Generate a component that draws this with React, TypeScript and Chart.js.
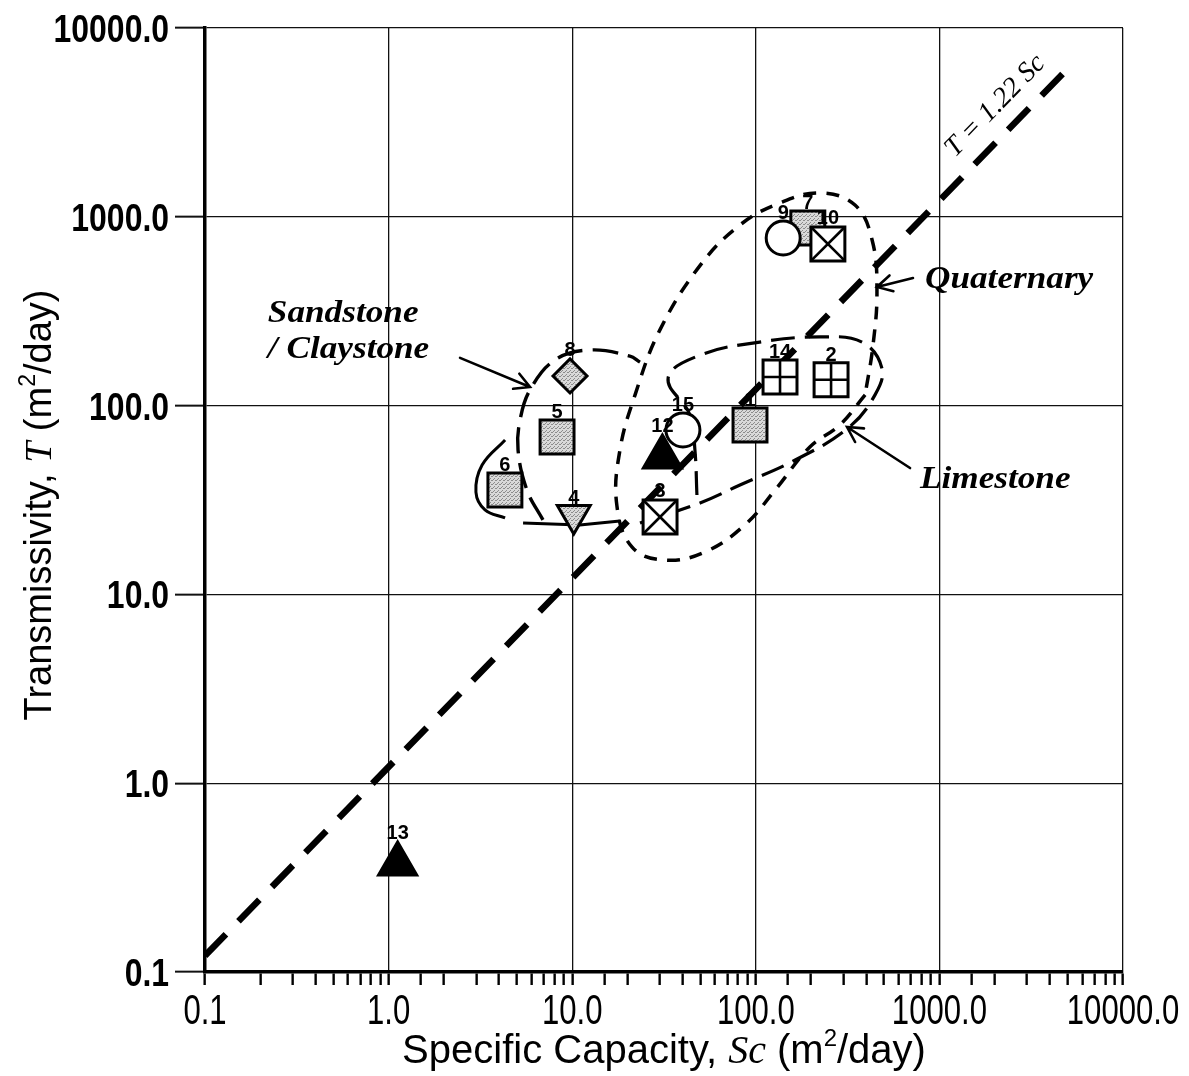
import React, { useEffect, useRef } from 'react';
import { Chart, registerables } from 'chart.js';
Chart.register(...registerables);

// ---------- data ----------
const wellIds = ['1', '2', '3', '4', '5', '6', '7', '8', '9', '10', '12', '13', '14', '15'];
const specificCapacity = [93, 257, 30.1, 10.2, 8.27, 4.3, 192, 9.73, 141, 247, 31, 1.12, 135.5, 40.1];
const transmissivity = [79, 137, 25.7, 26.3, 68.2, 35.7, 872, 143.5, 772, 718, 53.4, 0.373, 141.8, 74.3];
const markerKinds = [
  'greySquare', 'gridSquare', 'crossSquare', 'greyTriangleDown', 'greySquare', 'greySquare', 'greySquare',
  'greyDiamond', 'openCircle', 'crossSquare', 'blackTriangle', 'blackTriangle', 'gridSquare', 'openCircle',
];

const axisMin = 0.1;
const axisMax = 10000;
const decadeTicks = [0.1, 1, 10, 100, 1000, 10000];
const decadeTickLabels = ['0.1', '1.0', '10.0', '100.0', '1000.0', '10000.0'];

// T = 1.22 Sc reference line end points
const fitLineSc = [0.1, 5100];
const fitLineT = [0.122, 6220];
const fitLineLabel = 'T = 1.22 Sc';

// hand drawn group outlines (Sc, T)
const quaternaryLoop: [number, number][] = [
  [394, 114], [287, 79], [197, 60.4], [130, 36.6], [87, 23.3], [53, 16.8], [32, 15.2], [21.2, 17.8],
  [17.5, 29.7], [18.2, 58.2], [22, 114], [30, 251], [50, 556], [82, 905], [135, 1183], [224, 1337],
  [347, 1154], [430, 754], [457, 409], [435, 209], [394, 114],
];
const limestoneLoop: [number, number][] = [
  [47.8, 33.6], [46.6, 58.2], [43.8, 89.2], [33.3, 140], [49.7, 185], [105, 217], [224, 231], [379, 217],
  [486, 158], [446, 114], [318, 76], [164, 51.5], [82, 38], [49.7, 30.5], [23.4, 23.9],
];
const sandstoneLoop: [number, number][] = [
  [6.93, 24.8], [5.67, 35.7], [5.07, 58.2], [5.2, 83.9], [5.89, 121], [8.06, 174.5], [12.5, 197],
  [20.6, 183], [23.4, 170],
];
const sandstoneBase: [number, number][] = [[5.4, 23.9], [11.0, 23.3], [18.2, 24.5]];
const sandstoneArc: [number, number][] = [[4.31, 65.7], [3.23, 48.4], [2.99, 34.8], [3.35, 28], [4.31, 25.4]];

// pointer arrows: [from, to]
const arrowSandstone: [number, number][] = [[2.45, 179], [5.89, 125.5]];
const arrowQuaternary: [number, number][] = [[718, 474], [457, 425]];
const arrowLimestone: [number, number][] = [[692, 46.7], [314, 77]];

// group names and anchors (Sc, T)
const groupNames = ['Sandstone', '/ Claystone', 'Quaternary', 'Limestone'];
const groupAnchorSc = [0.22, 0.22, 835, 784];
const groupAnchorT = [277, 179, 420, 36.6];
const fitLabelAnchor: [number, number] = [1216, 2047];

// ---------- styles ----------
type MarkerStyle = { pointStyle: string; radius: number; fill: string; rotation?: number; order: number; labelOffset: number; overlay?: string; overlayRadius?: number };
const markerStyles: Record<string, MarkerStyle> = {
  greySquare: { pointStyle: 'rect', radius: 24, fill: 'grey', order: 6, labelOffset: 19 },
  gridSquare: { pointStyle: 'rect', radius: 24, fill: 'white', order: 4, labelOffset: 19, overlay: 'cross', overlayRadius: 17 },
  crossSquare: { pointStyle: 'rect', radius: 24, fill: 'white', order: 4, labelOffset: 20, overlay: 'crossRot', overlayRadius: 24 },
  greyTriangleDown: { pointStyle: 'triangle', radius: 19, fill: 'grey', rotation: 180, order: 5, labelOffset: 11 },
  greyDiamond: { pointStyle: 'rectRot', radius: 17, fill: 'grey', order: 5, labelOffset: 20 },
  openCircle: { pointStyle: 'circle', radius: 17, fill: 'white', order: 4, labelOffset: 19 },
  blackTriangle: { pointStyle: 'triangle', radius: 22, fill: 'black', order: 2, labelOffset: 25 },
};

const isMajor = (v: number) => Math.abs(Math.log10(v) - Math.round(Math.log10(v))) < 1e-6;

function makePattern(): CanvasPattern | string {
  const c = document.createElement('canvas');
  c.width = 4;
  c.height = 4;
  const g = c.getContext('2d');
  if (!g) return '#c4c4c4';
  g.fillStyle = '#d9d9d9';
  g.fillRect(0, 0, 4, 4);
  g.fillStyle = '#8c8c8c';
  g.fillRect(0, 0, 1, 1);
  g.fillRect(2, 2, 1, 1);
  g.fillRect(3, 0, 1, 1);
  g.fillRect(1, 3, 1, 1);
  return g.createPattern(c, 'repeat') ?? '#c4c4c4';
}

type Part = { t: string; f: string; dy?: number };
function drawRich(ctx: CanvasRenderingContext2D, parts: Part[], cx: number, baseline: number) {
  let total = 0;
  for (const p of parts) {
    ctx.font = p.f;
    total += ctx.measureText(p.t).width;
  }
  let x = cx - total / 2;
  ctx.textAlign = 'left';
  ctx.textBaseline = 'alphabetic';
  for (const p of parts) {
    ctx.font = p.f;
    ctx.fillText(p.t, x, baseline + (p.dy || 0));
    x += ctx.measureText(p.t).width;
  }
}

const overlayPlugin = {
  id: 'overlay',
  afterDatasetsDraw(chart: any) {
    const ctx: CanvasRenderingContext2D = chart.ctx;
    const xs = chart.scales.x;
    const ys = chart.scales.y;
    const px = (v: number) => xs.getPixelForValue(v);
    const py = (v: number) => ys.getPixelForValue(v);
    ctx.save();
    ctx.fillStyle = '#000';
    ctx.strokeStyle = '#000';

    // arrows
    ctx.lineWidth = 2.6;
    ctx.lineCap = 'round';
    for (const a of [arrowSandstone, arrowQuaternary, arrowLimestone]) {
      const x0 = px(a[0][0]), y0 = py(a[0][1]), x1 = px(a[1][0]), y1 = py(a[1][1]);
      const ang = Math.atan2(y1 - y0, x1 - x0);
      const h = 17;
      ctx.beginPath();
      ctx.moveTo(x0, y0);
      ctx.lineTo(x1, y1);
      ctx.moveTo(x1 - h * Math.cos(ang - 0.5), y1 - h * Math.sin(ang - 0.5));
      ctx.lineTo(x1, y1);
      ctx.lineTo(x1 - h * Math.cos(ang + 0.5), y1 - h * Math.sin(ang + 0.5));
      ctx.stroke();
    }

    // well labels
    ctx.font = 'bold 20px "Liberation Sans"';
    ctx.textAlign = 'center';
    ctx.textBaseline = 'alphabetic';
    wellIds.forEach((id, i) => {
      const st = markerStyles[markerKinds[i]];
      ctx.fillText(id, px(specificCapacity[i]), py(transmissivity[i]) - st.labelOffset);
    });

    // group names
    ctx.font = 'italic bold 32px "Liberation Serif"';
    ctx.textAlign = 'left';
    groupNames.forEach((name, i) => {
      ctx.save();
      ctx.translate(px(groupAnchorSc[i]), py(groupAnchorT[i]));
      ctx.scale(1.1, 1);
      ctx.fillText(name, 0, 0);
      ctx.restore();
    });

    // fit line label
    const ang = Math.atan2(py(fitLineT[1]) - py(fitLineT[0]), px(fitLineSc[1]) - px(fitLineSc[0]));
    ctx.save();
    ctx.translate(px(fitLabelAnchor[0]), py(fitLabelAnchor[1]));
    ctx.rotate(ang);
    ctx.font = 'italic 28px "Liberation Serif"';
    ctx.fillText(fitLineLabel, 0, 0);
    ctx.restore();
    ctx.restore();
  },
  afterDraw(chart: any) {
    const ctx: CanvasRenderingContext2D = chart.ctx;
    const area = chart.chartArea;
    const xs = chart.scales.x;
    const ys = chart.scales.y;
    ctx.save();
    ctx.fillStyle = '#000';

    // tick labels (condensed, tall digits)
    ctx.textBaseline = 'alphabetic';
    ctx.font = '42px "Liberation Sans"';
    ctx.textAlign = 'center';
    decadeTicks.forEach((v, i) => {
      ctx.save();
      ctx.translate(xs.getPixelForValue(v), 1024);
      ctx.scale(0.74, 1);
      ctx.fillText(decadeTickLabels[i], 0, 0);
      ctx.restore();
    });
    ctx.font = 'bold 38px "Liberation Sans"';
    ctx.textAlign = 'right';
    decadeTicks.forEach((v, i) => {
      ctx.save();
      ctx.translate(169, ys.getPixelForValue(v) + 14);
      ctx.scale(0.84, 1);
      ctx.fillText(decadeTickLabels[i], 0, 0);
      ctx.restore();
    });

    drawRich(ctx, [
      { t: 'Specific Capacity, ', f: '40px "Liberation Sans"' },
      { t: 'Sc', f: 'italic 40px "Liberation Serif"' },
      { t: ' (m', f: '40px "Liberation Sans"' },
      { t: '2', f: '24px "Liberation Sans"', dy: -17 },
      { t: '/day)', f: '40px "Liberation Sans"' },
    ], (area.left + area.right) / 2, 1063);
    ctx.translate(51, (area.top + area.bottom) / 2 + 5);
    ctx.rotate(-Math.PI / 2);
    drawRich(ctx, [
      { t: 'Transmissivity, ', f: '38px "Liberation Sans"' },
      { t: 'T', f: 'italic 38px "Liberation Serif"' },
      { t: ' (m', f: '38px "Liberation Sans"' },
      { t: '2', f: '23px "Liberation Sans"', dy: -16 },
      { t: '/day)', f: '38px "Liberation Sans"' },
    ], 0, 0);
    ctx.restore();
  },
};

const toXY = (pts: [number, number][]) => pts.map(([x, y]) => ({ x, y }));

export default function App() {
  const ref = useRef<HTMLCanvasElement>(null);
  useEffect(() => {
    const canvas = ref.current;
    if (!canvas) return;
    const grey = makePattern();
    const fills: Record<string, any> = { grey, white: '#ffffff', black: '#000000' };

    const markerSets: any[] = [];
    Object.keys(markerStyles).forEach((kind) => {
      const st = markerStyles[kind];
      const data = wellIds
        .map((_, i) => i)
        .filter((i) => markerKinds[i] === kind)
        .map((i) => ({ x: specificCapacity[i], y: transmissivity[i] }));
      markerSets.push({
        label: kind,
        data,
        pointStyle: st.pointStyle,
        pointRadius: st.radius,
        pointRotation: st.rotation || 0,
        pointBackgroundColor: fills[st.fill],
        pointBorderColor: '#000',
        pointBorderWidth: 3,
        showLine: false,
        order: st.order,
        clip: false,
      });
      if (st.overlay) {
        markerSets.push({
          label: kind + '-overlay',
          data,
          pointStyle: st.overlay,
          pointRadius: st.overlayRadius,
          pointBorderColor: '#000',
          pointBorderWidth: 2.6,
          showLine: false,
          order: 1,
          clip: false,
        });
      }
    });

    const lineSet = (label: string, pts: [number, number][], dash: number[], width: number, tension: number) => ({
      label,
      data: toXY(pts),
      showLine: true,
      pointRadius: 0,
      borderColor: '#000',
      borderWidth: width,
      borderDash: dash,
      borderCapStyle: 'butt',
      tension,
      fill: false,
      order: 10,
    });

    const datasets = [
      lineSet('fit', [[fitLineSc[0], fitLineT[0]], [fitLineSc[1], fitLineT[1]]], [30, 18], 6.5, 0),
      lineSet('quaternary', quaternaryLoop, [13, 10], 3.5, 0.4),
      lineSet('limestone', limestoneLoop, [24, 10], 3.2, 0.4),
      lineSet('sandstone', sandstoneLoop, [26, 10], 3.4, 0.4),
      lineSet('sandstoneBase', sandstoneBase, [], 3, 0),
      lineSet('sandstoneArc', sandstoneArc, [], 3, 0.4),
      ...markerSets,
    ];

    const gridColor = (c: any) => (c.tick && isMajor(c.tick.value) ? '#111' : 'rgba(0,0,0,0)');

    const chart = new Chart(canvas, {
      type: 'scatter',
      data: { datasets },
      options: {
        animation: false,
        responsive: false,
        maintainAspectRatio: false,
        events: [],
        layout: { padding: { top: 28, right: 66, left: 0, bottom: 0 } },
        plugins: { legend: { display: false }, tooltip: { enabled: false } },
        scales: {
          x: {
            type: 'logarithmic',
            min: axisMin,
            max: axisMax,
            afterFit: (s: any) => { s.height = 104; },
            border: { display: true, color: '#000', width: 3.5 },
            grid: { color: gridColor, lineWidth: 1.3, tickColor: '#000', tickLength: 13, tickWidth: 2.4 },
            ticks: { autoSkip: false, maxRotation: 0, padding: 6, color: '#000', font: { family: 'Liberation Sans', size: 30 }, callback: () => '' },
          },
          y: {
            type: 'logarithmic',
            min: axisMin,
            max: axisMax,
            afterFit: (s: any) => { s.width = 205; },
            border: { display: true, color: '#000', width: 3.5 },
            grid: { color: gridColor, lineWidth: 1.3, tickColor: gridColor, tickLength: 30, tickWidth: 2 },
            ticks: { autoSkip: false, padding: 5, color: '#000', font: { family: 'Liberation Sans', size: 32, weight: 'bold' }, callback: () => '' },
          },
        },
      } as any,
      plugins: [overlayPlugin],
    });
    return () => chart.destroy();
  }, []);

  return (
    <div style={{ position: 'absolute', left: 0, top: 0, width: 1189, height: 1076, background: '#fff' }}>
      <canvas ref={ref} width={1189} height={1076} style={{ width: 1189, height: 1076, display: 'block' }} />
    </div>
  );
}
